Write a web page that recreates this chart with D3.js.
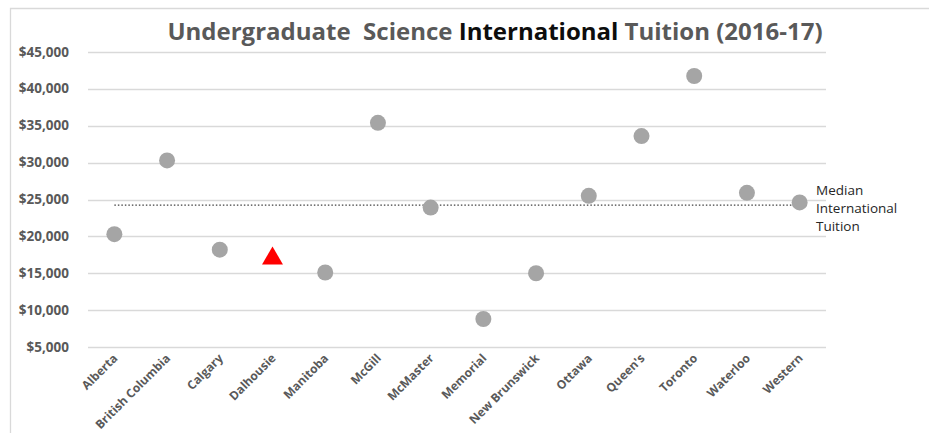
<!DOCTYPE html>
<html>
<head>
<meta charset="utf-8">
<script src="https://cdn.jsdelivr.net/npm/d3@7"></script>
<style>
  body { margin: 0; background: #fff; }
  svg { display: block; font-family: "Open Sans", "DejaVu Sans", sans-serif; }
</style>
</head>
<body>
<svg id="main-vis" width="929" height="433"></svg>
<script>
// values
var schools = ["Alberta", "British Columbia", "Calgary", "Dalhousie", "Manitoba", "McGill", "McMaster",
  "Memorial", "New Brunswick", "Ottawa", "Queen's", "Toronto", "Waterloo", "Western"];
var tuition = [20300, 30300, 18200, 17000, 15100, 35400, 23900, 8800, 15000, 25500, 33600, 41750, 25900, 24600];
var highlight = "Dalhousie";
var median = 24250;
var yTicks = [5000, 10000, 15000, 20000, 25000, 30000, 35000, 40000, 45000];
var medianLabel = ["Median", "International", "Tuition"];

var width = 929, height = 433;
var margin = {top: 52, right: 103, bottom: 86, left: 88};

var svg = d3.select('#main-vis');

// chart frame (only top and left edges show in the crop)
svg.append('path')
  .attr('d', 'M10.5,' + height + 'V8.5H' + width)
  .attr('fill', 'none')
  .attr('stroke', '#d9d9d9')
  .attr('stroke-width', 1.3);

var x = d3.scalePoint()
  .domain(schools)
  .range([margin.left, width - margin.right])
  .padding(0.5);

var y = d3.scaleLinear()
  .domain([5000, 45000])
  .range([height - margin.bottom, margin.top]);

// gridlines
svg.selectAll('.grid')
  .data(yTicks)
  .enter()
  .append('line')
    .attr('class', 'grid')
    .attr('x1', margin.left)
    .attr('x2', width - margin.right)
    .attr('y1', d => Math.round(y(d)) + 0.5)
    .attr('y2', d => Math.round(y(d)) + 0.5)
    .style('stroke', '#d9d9d9')
    .style('stroke-width', 1.3);

// y labels
svg.selectAll('.ylab')
  .data(yTicks)
  .enter()
  .append('text')
    .attr('class', 'ylab')
    .attr('x', 69)
    .attr('y', d => y(d) + 4.5)
    .attr('text-anchor', 'end')
    .attr('fill', '#595959')
    .style('font-size', '13.5px')
    .style('font-weight', 'bold')
    .text(d => '$' + d3.format(',')(d));

// x labels, rotated
svg.selectAll('.xlab')
  .data(schools)
  .enter()
  .append('text')
    .attr('class', 'xlab')
    .attr('transform', d => 'translate(' + (x(d) + 4) + ',' + (height - margin.bottom + 12) + ') rotate(-45)')
    .attr('text-anchor', 'end')
    .attr('fill', '#595959')
    .style('font-size', '12px')
    .style('font-weight', 'bold')
    .text(d => d);

// median line
svg.append('line')
  .attr('x1', x(schools[0]))
  .attr('x2', x(schools[schools.length - 1]))
  .attr('y1', y(median))
  .attr('y2', y(median))
  .style('stroke', '#404040')
  .style('stroke-width', 1.3)
  .style('stroke-dasharray', '1.5 2');

svg.selectAll('.medlab')
  .data(medianLabel)
  .enter()
  .append('text')
    .attr('class', 'medlab')
    .attr('x', width - margin.right - 10)
    .attr('y', (d, i) => y(median) - 10 + i * 18)
    .attr('fill', '#262626')
    .style('font-size', '13.5px')
    .text(d => d);

var rows = schools.map((s, i) => ({school: s, value: tuition[i]}));

// grey dots
svg.selectAll('.dot')
  .data(rows.filter(d => d.school !== highlight))
  .enter()
  .append('circle')
    .attr('class', 'dot')
    .attr('cx', d => x(d.school))
    .attr('cy', d => y(d.value))
    .attr('r', 8)
    .attr('fill', '#a5a5a5');

// highlighted school
svg.selectAll('.tri')
  .data(rows.filter(d => d.school === highlight))
  .enter()
  .append('path')
    .attr('class', 'tri')
    .attr('transform', d => 'translate(' + x(d.school) + ',' + y(d.value) + ')')
    .attr('d', d3.symbol(d3.symbolTriangle, 190)())
    .attr('fill', '#ff0000');

// title
var title = svg.append('text')
  .attr('x', 495)
  .attr('y', 40)
  .attr('text-anchor', 'middle')
  .style('font-size', '24px')
  .style('font-weight', 'bold')
  .attr('fill', '#595959');
title.append('tspan').text('Undergraduate\u00a0 Science ');
title.append('tspan').attr('fill', '#0d0d0d').text('International');
title.append('tspan').text(' Tuition (2016-17)');
</script>
</body>
</html>
